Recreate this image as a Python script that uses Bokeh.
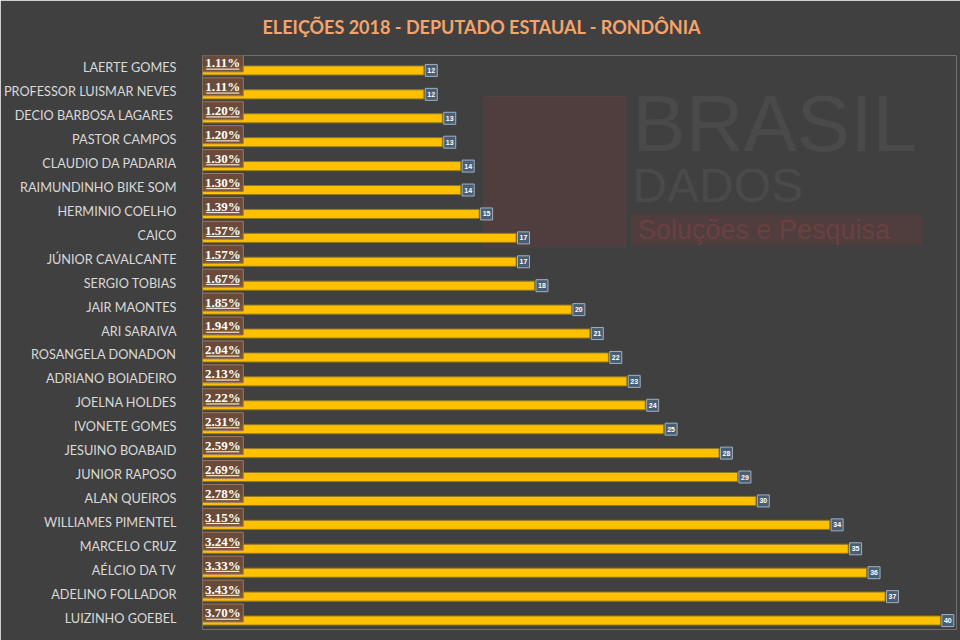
from bokeh.plotting import figure
from bokeh.models import ColumnDataSource, FactorRange, Range1d, BoxAnnotation
from bokeh.transform import dodge
from bokeh.core.properties import value
from bokeh.embed import file_html
from bokeh.resources import INLINE

# ---- data (top row first) ----
names = [
    "LAERTE GOMES", "PROFESSOR LUISMAR NEVES", "DECIO  BARBOSA LAGARES", "PASTOR CAMPOS",
    "CLAUDIO DA PADARIA", "RAIMUNDINHO BIKE SOM", "HERMINIO COELHO", "CAICO",
    "JÚNIOR CAVALCANTE", "SERGIO TOBIAS", "JAIR MAONTES", "ARI SARAIVA",
    "ROSANGELA DONADON", "ADRIANO BOIADEIRO", "JOELNA HOLDES", "IVONETE GOMES",
    "JESUINO BOABAID", "JUNIOR RAPOSO", "ALAN QUEIROS", "WILLIAMES PIMENTEL",
    "MARCELO CRUZ", "AÉLCIO DA TV", "ADELINO FOLLADOR", "LUIZINHO GOEBEL",
]
votes = [12, 12, 13, 13, 14, 14, 15, 17, 17, 18, 20, 21,
         22, 23, 24, 25, 28, 29, 30, 34, 35, 36, 37, 40]
percents = ["1.11%", "1.11%", "1.20%", "1.20%", "1.30%", "1.30%", "1.39%", "1.57%",
            "1.57%", "1.67%", "1.85%", "1.94%", "2.04%", "2.13%", "2.22%", "2.31%",
            "2.59%", "2.69%", "2.78%", "3.15%", "3.24%", "3.33%", "3.43%", "3.70%"]
title_text = "ELEIÇÕES 2018 - DEPUTADO ESTAUAL - RONDÔNIA"

BG = "#404040"

src = ColumnDataSource(dict(
    name=names,
    votes=votes,
    votes_txt=[str(v) for v in votes],
    pct=percents,
    zero=[0] * len(names),
))

p = figure(
    width=960, height=640,
    y_range=FactorRange(factors=names[::-1], range_padding=0),
    x_range=Range1d(0, 40.87),
    output_backend="svg", toolbar_location=None,
    min_border_left=201, min_border_right=4, min_border_top=53, min_border_bottom=11,
    background_fill_color=BG, border_fill_color=BG, outline_line_color=None,
)

# title
p.title.text = title_text
p.title.text_font = "Lato"
p.title.text_font_style = "bold"
p.title.text_font_size = "18px"
p.title.text_color = "#F5A46C"
p.title.align = "left"
p.title.offset = 60
p.title.vertical_align = "top"
p.title.standoff = 31

# axes / grids
p.xaxis.visible = False
p.xgrid.visible = False
p.ygrid.visible = False
ax = p.yaxis[0]
ax.axis_line_color = None
ax.major_tick_line_color = None
ax.minor_tick_line_color = None
ax.major_label_standoff = 20
ax.major_label_text_font = "Lato"
ax.major_label_text_font_size = "12.7px"
ax.major_label_text_color = "#D9D9D9"

# watermark (faint)
p.add_layout(BoxAnnotation(left=15.26, right=22.95, bottom=16.0, top=22.29,
                           fill_color="#6a3a3a", fill_alpha=0.4, line_color="#5a4a4a",
                           line_alpha=0.6, level="underlay"))
p.add_layout(BoxAnnotation(left=23.2, right=39.0, bottom=16.1, top=17.35,
                           fill_color="#6a3a3a", fill_alpha=0.4, line_color=None,
                           level="underlay"))
p.text(x=[23.3], y=[19.3], text=["BRASIL"], text_font=value("Liberation Sans"),
       text_font_size="80px", text_color="#4a4a4a", text_baseline="bottom", level="underlay")
p.text(x=[23.3], y=[17.45], text=["DADOS"], text_font=value("Liberation Sans"),
       text_font_size="48px", text_color="#4a4a4a", text_baseline="bottom", level="underlay")
p.text(x=[23.6], y=[16.72], text=["Soluções e Pesquisa"], text_font=value("Liberation Sans"),
       text_font_size="27px", text_color="#6c4646", text_baseline="middle", level="underlay")

# bars
bar_y = dodge("name", -0.125, range=p.y_range)
p.hbar(y=bar_y, left="zero", right="votes", height=0.38, source=src,
       fill_color="#FFC000", line_color="#8C7A22", line_width=1)

# value boxes at bar ends
p.rect(x=dodge("votes", 0.4), y=bar_y, width=12, height=12,
       width_units="screen", height_units="screen", source=src,
       fill_color="#4A5E73", line_color="#A0B0C0", line_width=1)
p.text(x=dodge("votes", 0.4), y=bar_y, text="votes_txt", source=src,
       text_font=value("Liberation Sans"), text_font_style="bold",
       text_font_size="7px", text_color="white",
       text_align="center", text_baseline="middle")

# percentage boxes
pct_y = dodge("name", 0.19, range=p.y_range)
p.rect(x=1.1, y=pct_y, width=41, height=18, width_units="screen", height_units="screen",
       source=src, fill_color="#6E4C3A", fill_alpha=0.92, line_color="#A07860", line_width=1)
p.text(x=1.1, y=pct_y, text="pct", source=src,
       text_font=value("Liberation Serif"), text_font_style="bold",
       text_font_size="13px", text_color="white",
       text_align="center", text_baseline="middle")
# underline of the percentage text
ul_y = dodge("name", -0.07, range=p.y_range)
p.segment(x0=0.2, x1=2.0, y0=ul_y, y1=ul_y, source=src, line_color="white", line_width=1)

open("out.html", "w").write(file_html(p, INLINE))
